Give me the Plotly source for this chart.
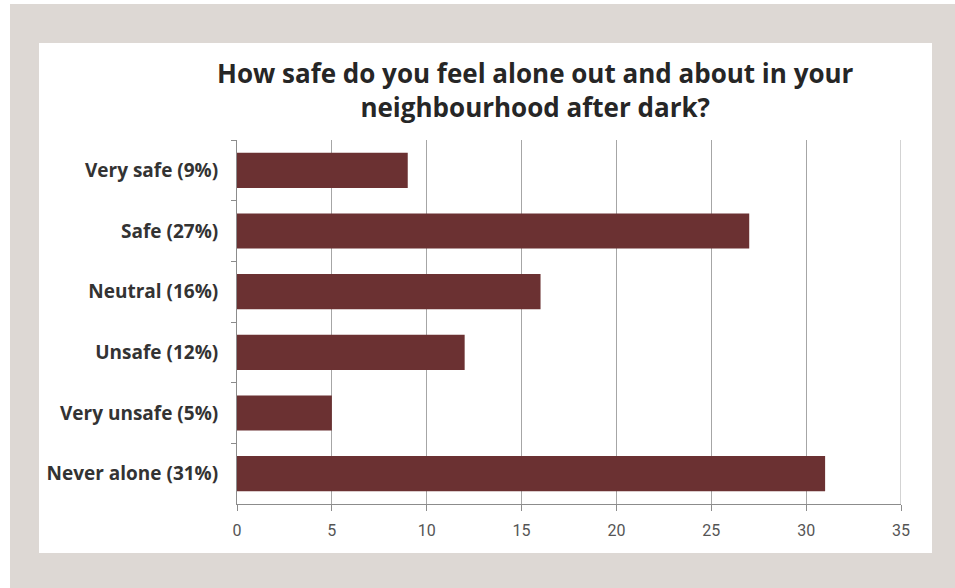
import plotly.graph_objects as go

# Survey responses: share of respondents (%)
categories = ["Very safe (9%)", "Safe (27%)", "Neutral (16%)",
              "Unsafe (12%)", "Very unsafe (5%)", "Never alone (31%)"]
values = [9, 27, 16, 12, 5, 31]
x_ticks = [0, 5, 10, 15, 20, 25, 30, 35]

title_text = ("How safe do you feel alone out and about in your<br>"
              "neighbourhood after dark?")

W, H = 955, 588
L, R, T, B = 237, 54, 140, 84          # plot-area margins in px
PW, PH = W - L - R, H - T - B


def px_x(px):
    return (px - L) / PW


def px_y(py):
    return (H - B - py) / PH


fig = go.Figure(
    go.Bar(
        x=values,
        y=categories,
        orientation="h",
        marker=dict(color="#6b3132", line=dict(width=0)),
        hoverinfo="x+y",
    )
)

fig.update_layout(
    width=W,
    height=H,
    margin=dict(l=L, r=R, t=T, b=B),
    paper_bgcolor="white",
    plot_bgcolor="white",
    bargap=0.42,
    showlegend=False,
    annotations=[
        dict(text=title_text, showarrow=False,
             xref="paper", yref="paper",
             x=px_x(535), y=px_y(90),
             xanchor="center", yanchor="middle", align="center",
             font=dict(family="Open Sans, Arial, sans-serif", size=26,
                       color="#262626", weight="bold")),
    ],
    shapes=[
        # grey mount behind the card
        dict(type="rect", xref="paper", yref="paper", layer="below",
             x0=px_x(10), x1=px_x(W + 5), y0=px_y(H + 5), y1=px_y(4),
             fillcolor="#ddd8d4", line=dict(width=0)),
        # white card
        dict(type="rect", xref="paper", yref="paper", layer="below",
             x0=px_x(39), x1=px_x(932), y0=px_y(553), y1=px_y(43),
             fillcolor="#ffffff", line=dict(width=0)),
        # gridline at the right end of the value axis
        dict(type="line", xref="x", yref="paper", layer="below",
             x0=35, x1=35, y0=0, y1=1,
             line=dict(color="#a6a6a6", width=1)),
    ],
)

fig.update_xaxes(
    range=[0, 35],
    tickvals=x_ticks,
    ticktext=[str(v) for v in x_ticks],
    showgrid=True,
    gridcolor="#a6a6a6",
    gridwidth=1,
    zeroline=False,
    showline=True,
    linecolor="#8c8c8c",
    linewidth=1,
    ticks="outside",
    ticklen=6,
    tickcolor="#8c8c8c",
    ticklabelstandoff=6,
    tickfont=dict(family="Liberation Sans Narrow, Roboto, Arial Narrow, sans-serif",
                  size=16, color="#555555"),
    fixedrange=True,
)

fig.update_yaxes(
    autorange="reversed",
    showgrid=False,
    zeroline=False,
    showline=True,
    linecolor="#8c8c8c",
    linewidth=1,
    ticks="outside",
    tickson="boundaries",
    ticklen=5,
    tickcolor="#8c8c8c",
    ticklabelstandoff=14,
    tickfont=dict(family="Open Sans, Arial, sans-serif", size=19,
                  color="#333333", weight="bold"),
    fixedrange=True,
)

fig.write_html("out.html")
